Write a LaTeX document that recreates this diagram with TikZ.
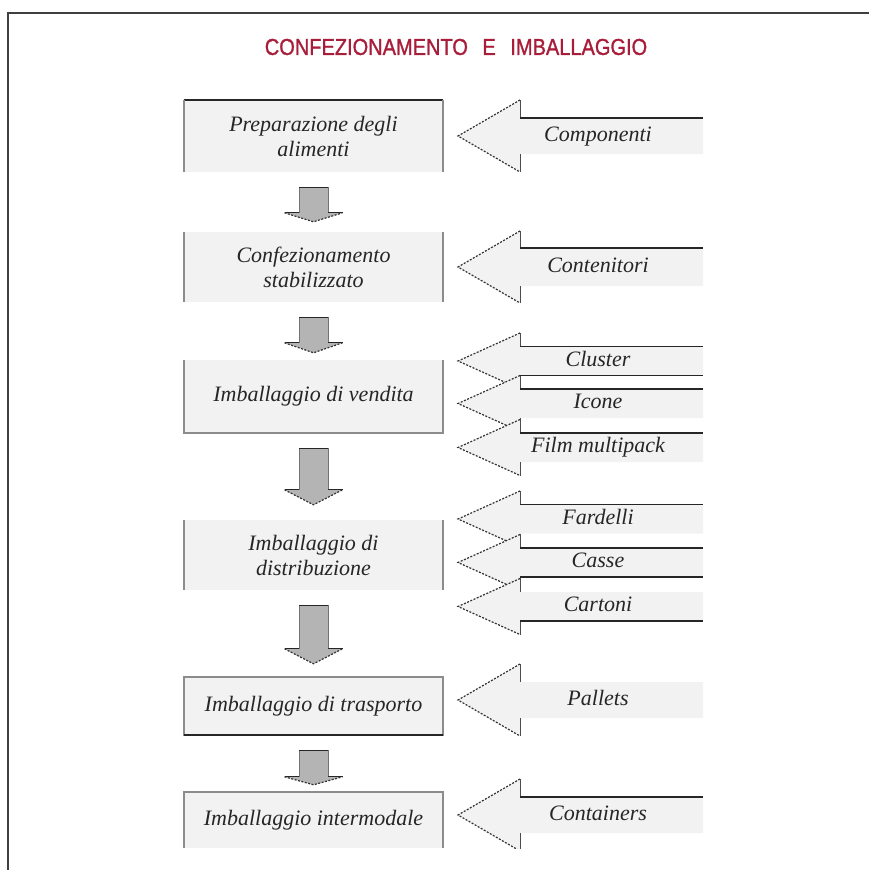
\documentclass[tikz,border=0pt]{standalone}
\usepackage{fontspec}
\setmainfont{Liberation Serif}
\newfontfamily\titlefont[FakeStretch=0.87, FakeBold=1.2]{Liberation Sans}
\usetikzlibrary{calc}
\definecolor{titlered}{RGB}{168,30,58}
\definecolor{boxfill}{RGB}{242,242,242}
\definecolor{arrowgray}{RGB}{180,180,180}
\tikzset{
	stage/.style={fill=boxfill, minimum width=259pt, inner sep=0pt, align=center, text=black!85, font=\fontsize{22}{25}\selectfont\itshape},
	inlabel/.style={inner sep=0pt, text height=15pt, text depth=5pt, text=black!85, font=\fontsize{22}{25}\selectfont\itshape},
	sideline/.style={draw=black!45, line width=1.5pt},
	edgeline/.style={draw=black!85, line width=1.8pt},
	headline/.style={draw=black!80, line width=1.2pt, dash pattern=on 2pt off 1.5pt},
}
\newcommand{\flowarrow}[4]{%
	\coordinate (ftop) at ($(#1.south)+(0,15)$);
	\coordinate (ftip) at ($(#2.north)+(0,-#4)$);
	\fill[arrowgray] ($(ftop)+(-14.5,0)$) -- ($(ftip)+(-14.5,-#3)$) -- ($(ftip)+(-29,-#3)$) -- (ftip)
		-- ($(ftip)+(29,-#3)$) -- ($(ftip)+(14.5,-#3)$) -- ($(ftop)+(14.5,0)$) -- cycle;
	\draw[black!55, line width=1pt] ($(ftop)+(-14.5,0)$) -- ($(ftip)+(-14.5,-#3)$)
		($(ftop)+(14.5,0)$) -- ($(ftip)+(14.5,-#3)$);
	\draw[edgeline, line width=1.3pt] ($(ftop)+(-14.5,0)$) -- ($(ftop)+(14.5,0)$)
		($(ftip)+(-14.5,-#3)$) -- ($(ftip)+(-29,-#3)$) ($(ftip)+(14.5,-#3)$) -- ($(ftip)+(29,-#3)$);
	\draw[headline] ($(ftip)+(-29,-#3)$) -- (ftip) -- ($(ftip)+(29,-#3)$);
}
\newcommand{\inarrow}[5]{%
	\fill[boxfill] (703,{#2-#3}) -- (520,{#2-#3}) -- (520,{#2-#4}) -- (458,#2)
		-- (520,{#2+#4}) -- (520,{#2+#3}) -- (703,{#2+#3}) -- cycle;
	\draw[headline] (520,{#2-#4}) -- (458,#2) -- (520,{#2+#4});
	\draw[black!70, line width=1pt] (520,{#2-#3}) -- (520,{#2-#4}) (520,{#2+#3}) -- (520,{#2+#4});
	\coordinate (#1-t) at (520,{#2-#3});
	\coordinate (#1-b) at (520,{#2+#3});
	\node[inlabel] (#1) at (598,#2) {#5};
}

\begin{document}
\begin{tikzpicture}[x=1pt, y=-1pt]
	\useasboundingbox (0,0) rectangle (869,870);
	\draw[black!75, line width=2pt] (869,13) -- (8,13) -- (8,870);
	\node[inner sep=0pt, text=titlered, font=\titlefont\fontsize{23}{26}\selectfont] (title) at (456,47)
		{CONFEZIONAMENTO\hspace{9pt} E\hspace{9pt} IMBALLAGGIO};
	\begin{scope}
		\clip (0,0) rectangle (869,848);
		\node[stage, minimum height=72pt] (prep) at (313.5,136) {Preparazione degli\\alimenti};
		\node[stage, minimum height=70pt] (conf) at (313.5,267) {Confezionamento\\stabilizzato};
		\node[stage, minimum height=73pt] (vend) at (313.5,396.5) {Imballaggio di vendita};
		\node[stage, minimum height=70pt] (dist) at (313.5,555) {Imballaggio di\\distribuzione};
		\node[stage, minimum height=58pt] (trasp) at (313.5,706) {Imballaggio di trasporto};
		\node[stage, minimum height=56pt] (inter) at (313.5,820) {Imballaggio intermodale};

		\draw[edgeline] (prep.north west) -- (prep.north east);
		\draw[sideline] (prep.north west) -- (prep.south west) (prep.north east) -- (prep.south east);
		\draw[sideline] (conf.north west) -- (conf.south west) (conf.north east) -- (conf.south east);
		\draw[sideline] (vend.north west) -- (vend.south west) -- (vend.south east) -- (vend.north east);
		\draw[sideline] (dist.north west) -- (dist.south west) (dist.north east) -- (dist.south east);
		\draw[sideline] (trasp.north west) rectangle (trasp.south east);
		\draw[edgeline] (trasp.south west) -- (trasp.south east);
		\draw[sideline] (inter.south west) -- (inter.north west) -- (inter.north east) -- (inter.south east);

		\flowarrow{prep}{conf}{9}{10}
		\flowarrow{conf}{vend}{10}{7}
		\flowarrow{vend}{dist}{15}{15}
		\flowarrow{dist}{trasp}{15}{13}
		\flowarrow{trasp}{inter}{8}{7}

		\inarrow{comp}{136}{18}{36}{Componenti}
		\inarrow{cont}{267}{19}{36}{Contenitori}
		\inarrow{clus}{361}{14.5}{28}{Cluster}
		\inarrow{icon}{403.5}{14.5}{28}{Icone}
		\inarrow{film}{447.5}{14.5}{28}{Film multipack}
		\inarrow{fard}{519}{14.5}{28}{Fardelli}
		\inarrow{cass}{562.5}{14.5}{28}{Casse}
		\inarrow{cart}{606.5}{14.5}{28}{Cartoni}
		\inarrow{pall}{700}{18}{36}{Pallets}
		\inarrow{ctnr}{815}{18}{36}{Containers}

		\draw[edgeline] (comp-t) -- +(183,0);
		\draw[edgeline] (cont-t) -- +(183,0);
		\draw[edgeline] (clus-t) -- +(183,0) (clus-b) -- +(183,0);
		\draw[edgeline] (icon-t) -- +(183,0);
		\draw[edgeline] (film-t) -- +(183,0);
		\draw[edgeline] (fard-t) -- +(183,0);
		\draw[edgeline] (cass-t) -- +(183,0) (cass-b) -- +(183,0);
		\draw[edgeline] (cart-b) -- +(183,0);
		\draw[edgeline] (ctnr-t) -- +(183,0);
	\end{scope}
\end{tikzpicture}
\end{document}
